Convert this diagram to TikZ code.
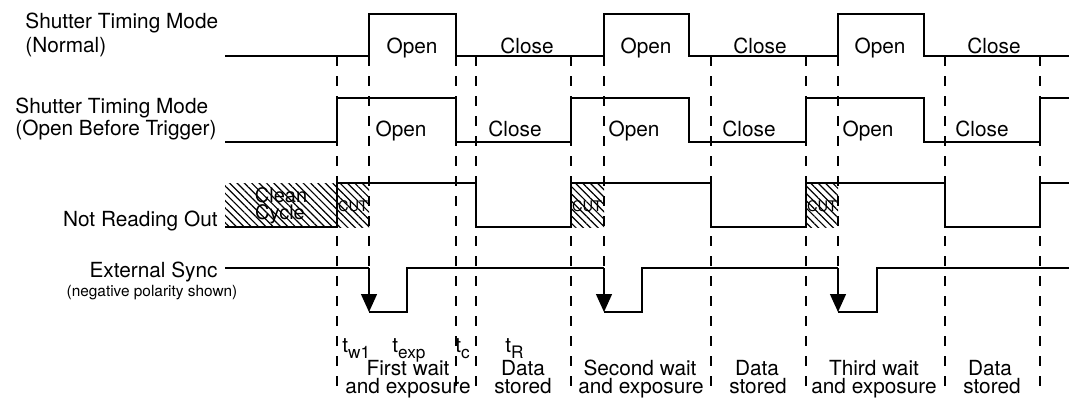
\documentclass[tikz,border=0pt]{standalone}
\usepackage{fontspec}
\setmainfont{TeX Gyre Heros}
\usepackage{tikz}
\usetikzlibrary{arrows.meta,patterns.meta}
\newcommand{\tlab}[1]{t\raisebox{-0.55ex}{\fontsize{8.6}{9}\selectfont #1}}
\tikzset{
  signal/.style={line width=0.7pt, line join=miter},
  guide/.style={line width=0.6pt, dash pattern=on 5pt off 5pt},
  hatchbox/.style={pattern={Lines[angle=-45,distance=2.6pt,line width=0.6pt]}, pattern color=black},
  statelbl/.style={font=\fontsize{10.4}{12}\selectfont, anchor=base, inner sep=0pt},
  rowlbl/.style={font=\fontsize{10.4}{12}\selectfont, inner sep=0pt},
  cutlbl/.style={font=\fontsize{7.3}{8}\selectfont, inner sep=0pt},
  trigarrow/.style={signal, -{Triangle[length=9pt,width=8pt]}}
}

\begin{document}
\begin{tikzpicture}[x=0.5pt, y=-0.5pt]
\useasboundingbox (0,0) rectangle (1069,402);

% row labels
\node[rowlbl, anchor=base west] (normA) at (25,28) {Shutter Timing Mode};
\node[rowlbl, anchor=base west] (normB) at (25,52) {(Normal)};
\node[rowlbl, anchor=base west] (obtA) at (15,113) {Shutter Timing Mode};
\node[rowlbl, anchor=base west] (obtB) at (15,135) {(Open Before Trigger)};
\node[rowlbl, anchor=base east] (nro) at (218,226) {Not Reading Out};
\node[rowlbl, anchor=base east] (sync) at (218,277) {External Sync};
\node[font=\fontsize{7.7}{9}\selectfont, inner sep=0pt, anchor=base] (pol) at (152,296) {(negative polarity shown)};

% hatched clean cycle and CUT boxes
\path[hatchbox] (225,183) rectangle (337,227);
\path[hatchbox] (337,183) rectangle (369,227);
\path[hatchbox] (571,183) rectangle (604,227);
\path[hatchbox] (806,183) rectangle (838,227);
\node[statelbl, font=\fontsize{10}{12}\selectfont] (cleanA) at (281,202) {Clean};
\node[statelbl, font=\fontsize{10}{12}\selectfont] (cleanB) at (280,219) {Cycle};
\node[cutlbl] (cut1) at (353,206) {CUT};
\node[cutlbl] (cut2) at (587,206) {CUT};
\node[cutlbl] (cut3) at (822,206) {CUT};

% guide lines
\draw[guide] (337,56) -- (337,395);
\draw[guide] (369,56) -- (369,268);
\draw[guide] (456,56) -- (456,395);
\draw[guide] (476,56) -- (476,395);
\draw[guide] (571,56) -- (571,395);
\draw[guide] (604,56) -- (604,268);
\draw[guide] (711,56) -- (711,395);
\draw[guide] (806,56) -- (806,395);
\draw[guide] (838,56) -- (838,268);
\draw[guide] (945,56) -- (945,395);
\draw[guide] (1040,56) -- (1040,395);

% shutter, normal
\draw[signal] (225,56) -- (369,56) -- (369,14) -- (456,14) -- (456,56) -- (604,56) -- (604,14)
  -- (689,14) -- (689,56) -- (838,56) -- (838,14) -- (924,14) -- (924,56) -- (1069,56);
% shutter, open before trigger
\draw[signal] (225,142) -- (337,142) -- (337,98) -- (456,98) -- (456,142) -- (571,142) -- (571,98)
  -- (689,98) -- (689,142) -- (806,142) -- (806,98) -- (924,98) -- (924,142) -- (1040,142)
  -- (1040,98) -- (1069,98);
% not reading out
\draw[signal] (225,227) -- (337,227) -- (337,183) -- (476,183) -- (476,227) -- (571,227) -- (571,183)
  -- (711,183) -- (711,227) -- (806,227) -- (806,183) -- (945,183) -- (945,227) -- (1040,227)
  -- (1040,183) -- (1069,183);
% external sync
\draw[signal] (225,268) -- (369,268);
\draw[trigarrow] (369,268) -- (369,312);
\draw[signal] (369,312) -- (407,312) -- (407,268) -- (604,268);
\draw[trigarrow] (604,268) -- (604,312);
\draw[signal] (604,312) -- (642,312) -- (642,268) -- (838,268);
\draw[trigarrow] (838,268) -- (838,312);
\draw[signal] (838,312) -- (877,312) -- (877,268) -- (1069,268);

% state labels
\node[statelbl] (nopen1) at (412,53) {Open};
\node[statelbl] (nclose1) at (527,53) {Close};
\node[statelbl] (nopen2) at (646,53) {Open};
\node[statelbl] (nclose2) at (760,53) {Close};
\node[statelbl] (nopen3) at (880,53) {Open};
\node[statelbl] (nclose3) at (994,53) {Close};
\node[statelbl] (bopen1) at (401,136) {Open};
\node[statelbl] (bclose1) at (515,136) {Close};
\node[statelbl] (bopen2) at (634,136) {Open};
\node[statelbl] (bclose2) at (749,136) {Close};
\node[statelbl] (bopen3) at (868,136) {Open};
\node[statelbl] (bclose3) at (982,136) {Close};

% timing labels
\node[statelbl, anchor=base west] (tw) at (342,352) {\tlab{w1}};
\node[statelbl, anchor=base west] (texp) at (392,352) {\tlab{exp}};
\node[statelbl, anchor=base west] (tc) at (455,352) {\tlab{c}};
\node[statelbl, anchor=base west] (tr) at (505,352) {\tlab{R}};
\node[statelbl] (firstA) at (408,375) {First wait};
\node[statelbl] (firstB) at (408,393) {and exposure};
\node[statelbl] (dataA1) at (523,375) {Data};
\node[statelbl] (dataB1) at (523,393) {stored};
\node[statelbl] (secondA) at (640,375) {Second wait};
\node[statelbl] (secondB) at (641,393) {and exposure};
\node[statelbl] (dataA2) at (757,375) {Data};
\node[statelbl] (dataB2) at (758,393) {stored};
\node[statelbl] (thirdA) at (874,375) {Third wait};
\node[statelbl] (thirdB) at (874,393) {and exposure};
\node[statelbl] (dataA3) at (990,375) {Data};
\node[statelbl] (dataB3) at (992,393) {stored};
\end{tikzpicture}
\end{document}
